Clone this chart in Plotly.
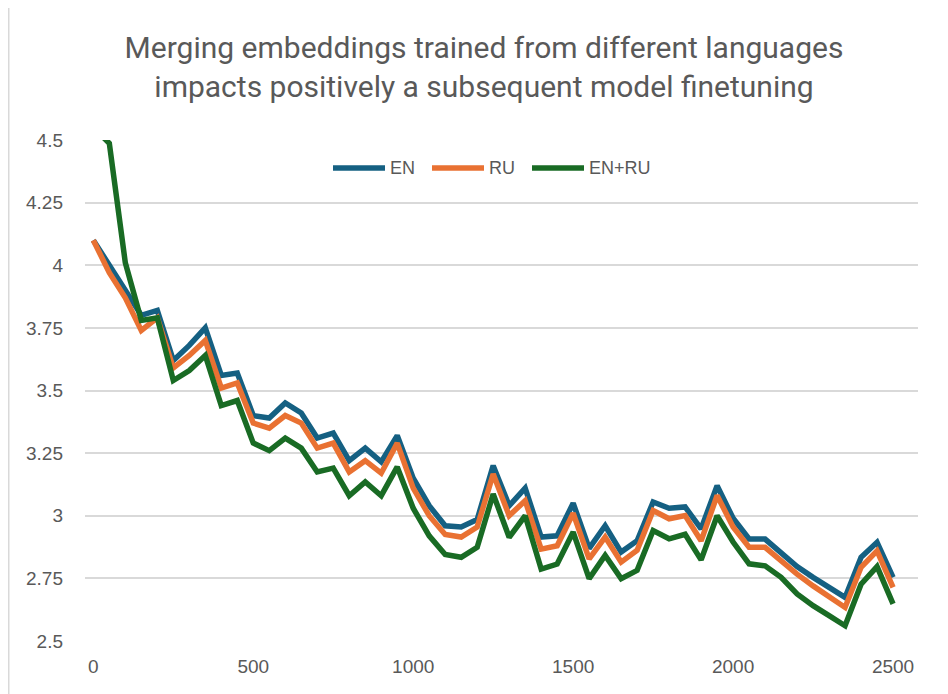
import plotly.graph_objects as go

steps = list(range(0, 2501, 50))

en = [4.10, 4.00, 3.90, 3.80, 3.82, 3.62, 3.68, 3.75, 3.56, 3.57,
      3.40, 3.39, 3.45, 3.41, 3.31, 3.33, 3.22, 3.27, 3.215, 3.32,
      3.15, 3.04, 2.96, 2.955, 2.985, 3.20, 3.04, 3.11, 2.915, 2.92,
      3.05, 2.87, 2.96, 2.855, 2.90, 3.055, 3.03, 3.035, 2.948, 3.12,
      2.99, 2.907, 2.907, 2.854, 2.797, 2.754, 2.714, 2.674, 2.834, 2.894,
      2.754]

ru = [4.10, 3.97, 3.87, 3.74, 3.79, 3.59, 3.64, 3.70, 3.51, 3.53,
      3.37, 3.35, 3.40, 3.37, 3.27, 3.29, 3.175, 3.22, 3.17, 3.29,
      3.11, 3.00, 2.925, 2.915, 2.955, 3.167, 3.00, 3.06, 2.867, 2.88,
      3.01, 2.828, 2.915, 2.815, 2.862, 3.021, 2.988, 3.001, 2.90, 3.081,
      2.955, 2.874, 2.874, 2.82, 2.767, 2.72, 2.677, 2.634, 2.794, 2.86,
      2.714]

en_ru = [4.55, 4.487, 4.01, 3.78, 3.79, 3.54, 3.58, 3.64, 3.44, 3.46,
         3.29, 3.26, 3.31, 3.27, 3.175, 3.19, 3.08, 3.135, 3.08, 3.195,
         3.03, 2.92, 2.845, 2.834, 2.874, 3.087, 2.914, 3.00, 2.787, 2.807,
         2.935, 2.749, 2.842, 2.749, 2.782, 2.941, 2.908, 2.926, 2.824, 3.00,
         2.895, 2.808, 2.80, 2.754, 2.688, 2.641, 2.601, 2.561, 2.727, 2.797,
         2.648]

series_names = ["EN", "RU", "EN+RU"]
series_values = [en, ru, en_ru]

y_tickvals = [2.5, 2.75, 3, 3.25, 3.5, 3.75, 4, 4.25, 4.5]
y_ticktext = ["2.5", "2.75", "3", "3.25", "3.5", "3.75", "4", "4.25", "4.5"]
x_tickvals = [0, 500, 1000, 1500, 2000, 2500]
x_ticktext = ["0", "500", "1000", "1500", "2000", "2500"]

title_text = ("Merging embeddings trained from different languages<br>"
              "impacts positively a subsequent model finetuning")

colors = ["#156082", "#E97132", "#196B24"]
text_color = "#595959"
grid_color = "#D9D9D9"

# page body has an 8px margin; size the figure so the plot area lands where it should
OFF = 8
W, H = 948 - OFF, 694 - OFF
L, R, T, B = 85 - OFF, 30, 140 - OFF, 53
pw = W - L - R
ph = H - T - B

fig = go.Figure()
for name, vals, col in zip(series_names, series_values, colors):
    fig.add_trace(go.Scatter(
        x=steps, y=vals, mode="lines", name=name,
        line=dict(color=col, width=5.5, shape="linear"),
        showlegend=False,
    ))

# custom legend (lines + labels) to mimic Excel's layout
leg_y = (641 - 168) / 501
leg_starts_px = [333, 432, 532]
line_len_px = 52
for name, col, sx in zip(series_names, colors, leg_starts_px):
    x0 = (sx - 85) / pw
    x1 = (sx + line_len_px - 85) / pw
    fig.add_shape(type="line", xref="paper", yref="paper",
                  x0=x0, x1=x1, y0=leg_y, y1=leg_y,
                  line=dict(color=col, width=5.5))
    fig.add_annotation(xref="paper", yref="paper", x=x1 + 3 / pw, y=leg_y,
                       text=name, showarrow=False, xanchor="left",
                       yanchor="middle",
                       font=dict(family="Liberation Sans, Arial", size=18,
                                 color=text_color))

# chart-area left border
bx = (0.75 - L) / pw
fig.add_shape(type="line", xref="paper", yref="paper",
              x0=bx, x1=bx, y0=-B / ph, y1=1 + T / ph,
              line=dict(color=grid_color, width=1.5))

fig.update_layout(
    width=W, height=H,
    margin=dict(l=L, r=R, t=T, b=B),
    paper_bgcolor="white", plot_bgcolor="white",
    title=dict(text=title_text, x=(484 - OFF) / W, xref="container", xanchor="center",
               y=1 - 50 / H, yref="container", yanchor="middle",
               font=dict(family="Roboto", size=30, color=text_color)),
    font=dict(family="Liberation Sans, Arial", size=19, color=text_color),
    xaxis=dict(range=[-26, 2578], tickvals=x_tickvals, ticktext=x_ticktext,
               showgrid=False, zeroline=False, showline=False, ticks="",
               ticklabelstandoff=12,
               tickfont=dict(family="Liberation Sans, Arial", size=19, color=text_color)),
    yaxis=dict(range=[2.5, 4.5], tickvals=y_tickvals, ticktext=y_ticktext,
               showgrid=True, gridcolor=grid_color, gridwidth=1.5,
               zeroline=False, showline=False, ticks="",
               ticklabelstandoff=21,
               tickfont=dict(family="Liberation Sans, Arial", size=19, color=text_color)),
    showlegend=False,
)

fig.write_html("out.html")
